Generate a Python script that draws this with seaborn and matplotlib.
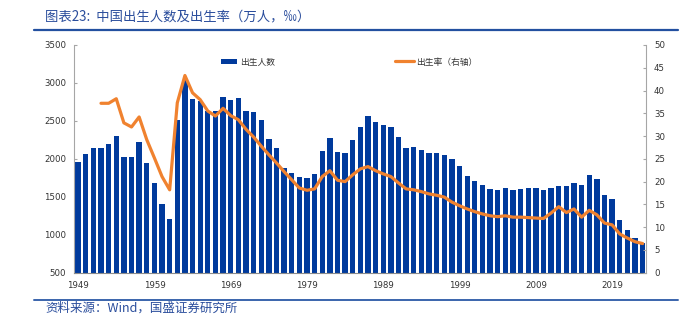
import numpy as np
import pandas as pd
import matplotlib
matplotlib.use("Agg")
import matplotlib.pyplot as plt
import seaborn as sns
from matplotlib.patches import Patch
from matplotlib.lines import Line2D

sns.set_style("white")
plt.rcParams['font.family'] = ['DejaVu Sans', 'Noto Sans CJK SC']

years = list(range(1949, 2024))
births = [1964, 2062, 2141, 2141, 2194, 2299, 2022, 2022, 2220, 1943,
          1679, 1402, 1208, 2518, 3045, 2792, 2765, 2624, 2624, 2814,
          2771, 2797, 2629, 2615, 2509, 2268, 2144, 1881, 1814, 1761,
          1743, 1801, 2097, 2273, 2088, 2080, 2243, 2422, 2558, 2488,
          2440, 2416, 2286, 2146, 2150, 2123, 2083, 2083, 2048, 2000,
          1912, 1779, 1713, 1655, 1602, 1594, 1615, 1589, 1597, 1611,
          1615, 1594, 1611, 1637, 1646, 1686, 1659, 1792, 1730, 1523,
          1470, 1199, 1061, 951, 893]
rate_years = list(range(1952, 2024))
rates = [37.2, 37.2, 38.2, 32.9, 32.0, 34.2, 29.2, 25.2, 21.1, 18.2,
         37.3, 43.3, 39.5, 38.0, 35.5, 34.4, 36.1, 34.5, 33.6, 31.5,
         29.8, 27.8, 25.9, 24.1, 22.2, 20.4, 18.6, 18.1, 18.4, 21.1,
         22.4, 20.3, 20.0, 21.5, 22.8, 23.3, 22.4, 21.7, 21.1, 19.7,
         18.4, 18.2, 17.8, 17.3, 17.0, 16.6, 15.5, 14.7, 14.0, 13.4,
         12.9, 12.5, 12.3, 12.5, 12.2, 12.2, 12.1, 12.0, 11.9, 13.1,
         14.5, 13.2, 14.0, 12.2, 13.7, 12.7, 10.9, 10.5, 8.5, 7.6,
         6.8, 6.4]
tick_years = list(range(1949, 2024, 10))

bar_color = "#003A9C"
line_color = "#F0822F"
cjk = ['Noto Sans CJK SC', 'DejaVu Sans']

df_b = pd.DataFrame({"year": [str(y) for y in years], "births": births})
df_r = pd.DataFrame({"pos": [y - years[0] for y in rate_years], "rate": rates})

fig = plt.figure(figsize=(6.96, 3.33), dpi=100)
ax = fig.add_axes([74.3/696, 1-272.7/333, (645.7-74.3)/696, (272.7-45)/333])
sns.barplot(data=df_b, x="year", y="births", order=df_b["year"], color=bar_color,
            saturation=1, width=0.7, edgecolor="none", linewidth=0, ax=ax)
ax2 = ax.twinx()
sns.lineplot(data=df_r, x="pos", y="rate", color=line_color, linewidth=2.3, ax=ax2)

ax.set_xlim(-0.5, len(years) - 0.6)
ax.set_ylim(500, 3500)
ax.set_yticks(range(500, 3501, 500))
ax2.set_ylim(0, 50)
ax2.set_yticks(range(0, 51, 5))
ax.set_xticks([y - years[0] for y in tick_years])
ax.set_xticklabels([str(y) for y in tick_years])
ax.set_xticks([y - years[0] - 0.5 for y in tick_years[1:]], minor=True)
ax.set_xlabel("")
ax.set_ylabel("")
ax2.set_ylabel("")
ax2.set_xlabel("")

for a in (ax, ax2):
    for s in a.spines.values():
        s.set_visible(False)
ax.spines['left'].set_visible(True)
ax.spines['left'].set_color('#a6a6a6')
ax.spines['bottom'].set_visible(True)
ax.spines['bottom'].set_color('#8c8c8c')
ax2.spines['right'].set_visible(True)
ax2.spines['right'].set_color('#a6a6a6')

ax.tick_params(axis='y', direction='in', length=2.5, width=0.8, color='#a6a6a6',
               labelsize=6.2, labelcolor='#333333', pad=6)
ax2.tick_params(axis='y', direction='in', length=2.5, width=0.8, color='#a6a6a6',
                labelsize=6.2, labelcolor='#333333', pad=6)
ax.tick_params(axis='x', which='major', length=0, labelsize=6.2, labelcolor='#333333', pad=6)
ax.tick_params(axis='x', which='minor', direction='in', length=2.5, width=0.8, color='#a6a6a6')
ax.grid(False)
ax2.grid(False)

leg1 = ax2.legend(handles=[Patch(facecolor=bar_color, edgecolor='none', label='出生人数')],
                  loc='center left', bbox_to_anchor=(221/696, 1-62/333),
                  bbox_transform=fig.transFigure, frameon=False, borderpad=0,
                  borderaxespad=0, handlelength=1.85, handleheight=0.55, handletextpad=0.3,
                  prop={'family': cjk, 'size': 6.3})
for t in leg1.get_texts():
    t.set_color('#333333')
ax2.add_artist(leg1)
leg2 = ax2.legend(handles=[Line2D([], [], color=line_color, lw=2.3, label='出生率（右轴）')],
                  loc='center left', bbox_to_anchor=(395/696, 1-62/333),
                  bbox_transform=fig.transFigure, frameon=False, borderpad=0,
                  borderaxespad=0, handlelength=2.2, handletextpad=0.2,
                  prop={'family': cjk, 'size': 6.3})
for t in leg2.get_texts():
    t.set_color('#333333')

fig.text(45/696, 1-16/333, "图表23:  中国出生人数及出生率（万人，‰）", family=cjk,
         fontsize=9.6, color='#2A4D9C', ha='left', va='center', style='italic')
fig.text(45/696, 1-308/333, "资料来源：Wind，国盛证券研究所", family=cjk,
         fontsize=9, color='#2A4D9C', ha='left', va='center', style='italic')
fig.add_artist(Line2D([34/696, 678/696], [1-30/333, 1-30/333], transform=fig.transFigure,
                      color='#2350A0', lw=1.6))
fig.add_artist(Line2D([34/696, 678/696], [1-299.5/333, 1-299.5/333], transform=fig.transFigure,
                      color='#3A64AC', lw=1.4))

fig.savefig("out.png", dpi=100)
